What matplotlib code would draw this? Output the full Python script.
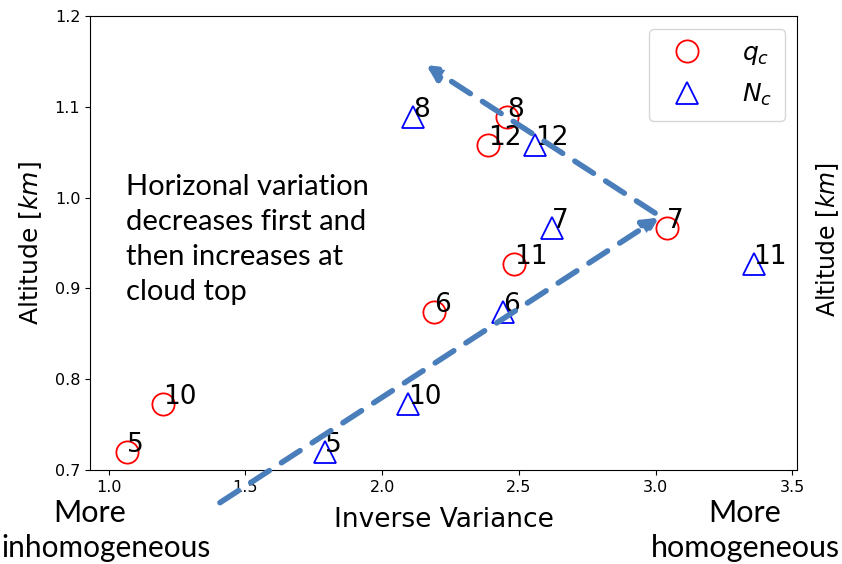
import numpy as np
import matplotlib.pyplot as plt

# case numbers and where each one sits
cases = [5, 10, 6, 11, 7, 12, 8]
altitude = [0.720, 0.773, 0.874, 0.927, 0.967, 1.058, 1.089]
inv_var_qc = [1.066, 1.200, 2.190, 2.483, 3.041, 2.388, 2.458]
inv_var_nc = [1.791, 2.095, 2.441, 3.358, 2.620, 2.559, 2.112]

arrow_col = '#4a7ebb'
note_font = 'Lato'

fig = plt.figure(figsize=(8.42, 5.64), dpi=100)
ax = fig.add_axes([0.1069, 0.1667, 0.8397, 0.8049])

ax.plot(inv_var_qc, altitude, 'o', ms=16, mfc='none', mec='red', mew=1.3,
        ls='none', label='$q_c$')
ax.plot(inv_var_nc, altitude, '^', ms=16, mfc='none', mec='blue', mew=1.3,
        ls='none', label='$N_c$')

for x, y, c in zip(inv_var_qc, altitude, cases):
    ax.text(x, y, str(c), fontsize=19)
for x, y, c in zip(inv_var_nc, altitude, cases):
    ax.text(x, y, str(c), fontsize=19)

ax.set_xlim(0.932, 3.517)
ax.set_ylim(0.7, 1.2)
ax.set_xticks([1.0, 1.5, 2.0, 2.5, 3.0, 3.5])
ax.set_yticks([0.7, 0.8, 0.9, 1.0, 1.1, 1.2])
ax.tick_params(labelsize=11.5)
ax.set_xlabel('Inverse Variance', fontsize=19, labelpad=9)
ax.set_ylabel('Altitude [$km$]', fontsize=18, labelpad=8)

leg = ax.legend(loc='upper right', fontsize=18, handletextpad=1.2,
                borderpad=0.5, labelspacing=0.6)

# trend arrows (up to the turning point, then back up-left)
arrow_kw = dict(arrowstyle='-|>,head_length=0.9,head_width=0.45', color=arrow_col,
                lw=4, ls=(0, (4, 2.6)), shrinkA=0, shrinkB=0)
ax.annotate('', xy=(3.012, 0.978), xytext=(1.407, 0.664),
            arrowprops=arrow_kw, annotation_clip=False)
ax.annotate('', xy=(2.161, 1.146), xytext=(2.998, 0.983),
            arrowprops=arrow_kw, annotation_clip=False)

ax.text(1.063, 0.954, 'Horizonal variation\ndecreases first and\nthen increases at\ncloud top',
        fontsize=21, family=note_font, va='center', linespacing=1.43)

fig.text(0.107, 0.0745, 'More', fontsize=22, family=note_font, ha='center', va='baseline')
fig.text(0.002, 0.0124, 'inhomogeneous', fontsize=21.5, family=note_font, ha='left', va='baseline')
fig.text(0.884, 0.0745, 'More', fontsize=22, family=note_font, ha='center', va='baseline')
fig.text(0.885, 0.0124, 'homogeneous', fontsize=22, family=note_font, ha='center', va='baseline')
fig.text(0.983, 0.575, 'Altitude [$km$]', fontsize=17, rotation=90,
         ha='center', va='center')

fig.savefig('out.png', dpi=100)
